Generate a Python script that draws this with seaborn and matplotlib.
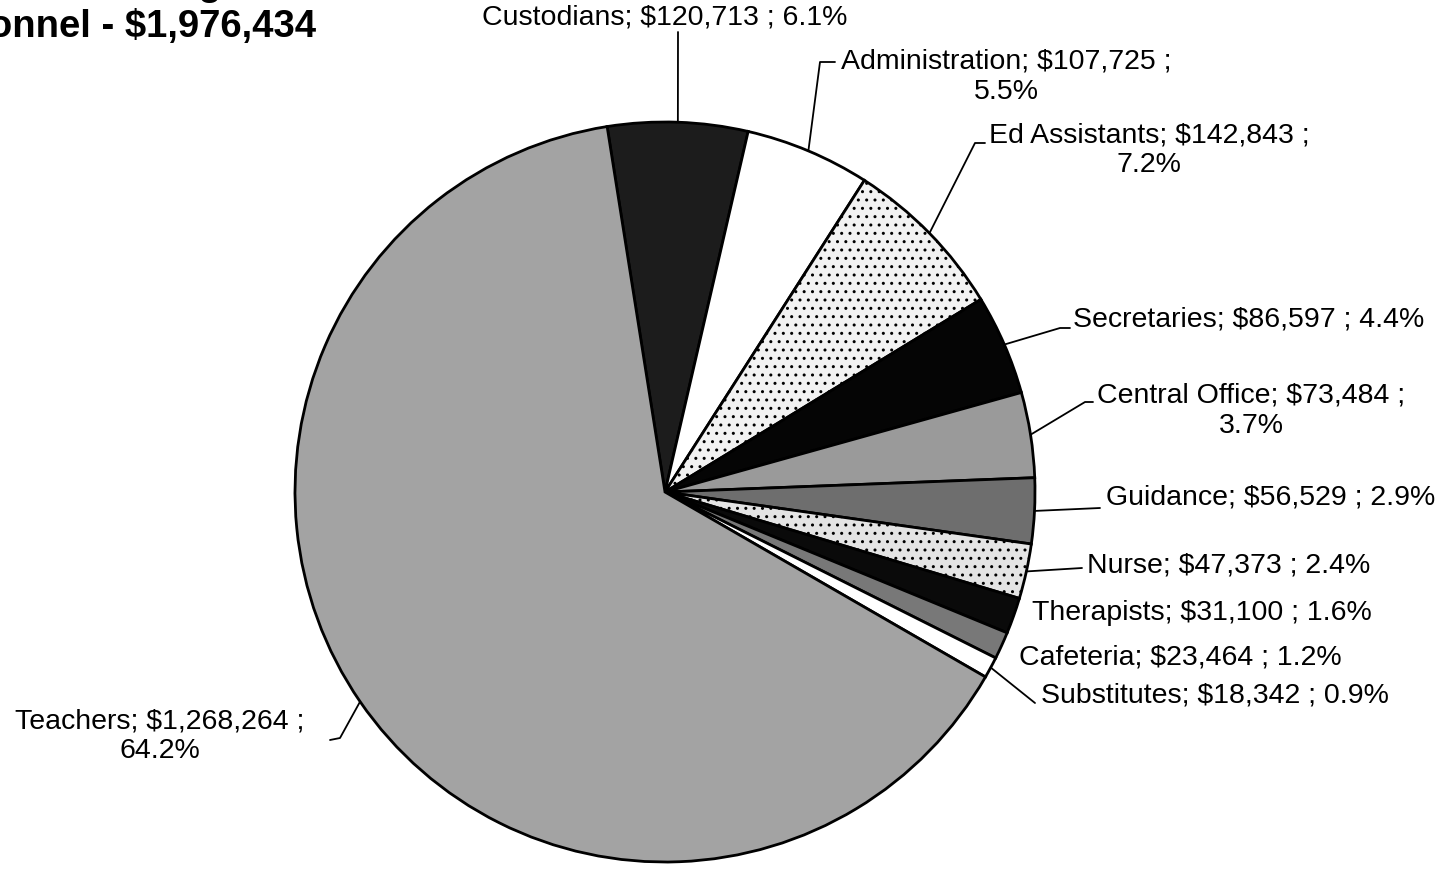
import matplotlib.pyplot as plt
import numpy as np
import seaborn as sns

categories = ["Custodians", "Administration", "Ed Assistants", "Secretaries",
              "Central Office", "Guidance", "Nurse", "Therapists", "Cafeteria",
              "Substitutes", "Teachers"]
amounts = [120713, 107725, 142843, 86597, 73484, 56529, 47373, 31100, 23464,
           18342, 1268264]
# labels that wrap onto a second line
wrapped = ["Administration", "Ed Assistants", "Central Office", "Teachers"]
title_text = "Personnel - $" + f"{sum(amounts):,}"

sns.set_theme(style="white")
plt.rcParams['font.family'] = ['Liberation Sans', 'DejaVu Sans']

W, H = 1441, 869
cx, cy, r = 665, 492, 370

fig = plt.figure(figsize=(W / 100, H / 100), dpi=100)
fig.patch.set_facecolor("white")
ax = fig.add_axes([(cx - r) / W, (H - cy - r) / H, 2 * r / W, 2 * r / H])

shades = ["#1c1c1c", "#ffffff", "#f2f2f2", "#050505", "#9a9a9a", "#6e6e6e",
          "#e4e4e4", "#0a0a0a", "#787878", "#ffffff", "#a3a3a3"]
hatches = [None, None, "..", None, None, None, "..", None, None, None, None]

wedges, _ = ax.pie(amounts, colors=shades, startangle=99, counterclock=False,
                   radius=1, wedgeprops=dict(edgecolor="black", linewidth=2))
for w, h in zip(wedges, hatches):
    if h:
        w.set_hatch(h)
ax.set_xlim(-1, 1)
ax.set_ylim(-1, 1)
ax.set_aspect("equal")
ax.axis("off")


def to_data(px, py):
    return (px - cx) / r, (cy - py) / r


# label placement in pixels: text centre, elbow of leader, end of leader
layout = {
    "Custodians": ((665, 18), (678, 32), None),
    "Administration": ((1006, 77), (820, 62), (835, 62)),
    "Ed Assistants": ((1149, 150), (975, 143), (985, 143)),
    "Secretaries": ((1249, 320), (1060, 328), (1070, 328)),
    "Central Office": ((1251, 411), (1085, 402), (1093, 402)),
    "Guidance": ((1271, 497), (1100, 508), None),
    "Nurse": ((1229, 566), (1082, 568), None),
    "Therapists": ((1202, 613), None, None),
    "Cafeteria": ((1180, 658), None, None),
    "Substitutes": ((1215, 695), (1035, 703), None),
    "Teachers": ((160, 736), (340, 738), (330, 740)),
}

total = sum(amounts)
for w, name, amt in zip(wedges, categories, amounts):
    pct = f"{amt / total * 100:.1f}%"
    sep = "\n" if name in wrapped else " "
    label = f"{name}; ${amt:,} ;{sep}{pct}"
    (tx, ty), elbow, end = layout[name]
    x, y = to_data(tx, ty)
    ax.text(x, y, label, ha="center", va="center", multialignment="center",
            fontsize=20.5, color="black", clip_on=False)
    if elbow is not None:
        mid = np.deg2rad((w.theta1 + w.theta2) / 2)
        pts = [(np.cos(mid), np.sin(mid)), to_data(*elbow)]
        if end is not None:
            pts.append(to_data(*end))
        xs, ys = zip(*pts)
        ax.plot(xs, ys, color="black", linewidth=1.3, clip_on=False)

# title is cropped at the top-left edge in the original scan
fig.text(316 / W, 1 - 27 / H, title_text, ha="right", va="center",
         fontsize=27.5, fontweight="bold", color="black")
fig.text(222 / W, 1 - (-5) / H, "Salaries and Staffing", ha="right",
         va="baseline", fontsize=27.5, fontweight="bold", color="black")

fig.savefig("out.png", dpi=100, facecolor="white")
